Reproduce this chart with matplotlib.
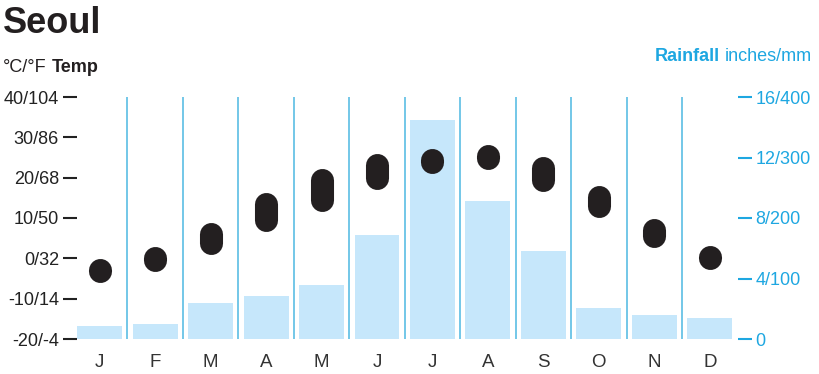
import matplotlib
matplotlib.use('Agg')
import matplotlib.pyplot as plt
import numpy as np

# 数据
months = ['J', 'F', 'M', 'A', 'M', 'J', 'J', 'A', 'S', 'O', 'N', 'D']
temp_low = [-3.2, -0.3, 3.7, 9.6, 14.5, 19.8, 23.8, 24.8, 19.5, 12.9, 5.6, 0.2]
temp_high = [-3.0, 0.2, 6.1, 13.4, 19.3, 23.2, 24.3, 25.3, 22.3, 15.1, 7.1, 0.4]
rain_mm = [21, 25, 59, 71, 89, 172, 362, 228, 145, 51, 40, 35]

temp_ticks = [-20, -10, 0, 10, 20, 30, 40]
temp_labels = ['-20/-4', '-10/14', '0/32', '10/50', '20/68', '30/86', '40/104']
rain_ticks = [0, 100, 200, 300, 400]
rain_labels = ['0', '4/100', '8/200', '12/300', '16/400']

plt.rcParams['font.family'] = ['Liberation Sans', 'DejaVu Sans']

blue = '#1ea7e1'
sep_blue = '#5bbde4'
bar_blue = '#c6e7fb'
dark = '#231f20'

fig = plt.figure(figsize=(8.19, 3.74), dpi=100)
ax = fig.add_axes([72 / 819, 35 / 374, 665.5 / 819, 242 / 374])
ax2 = ax.twinx()

x = np.arange(len(months))

# 降雨柱状图
ax2.bar(x, rain_mm, width=0.81, color=bar_blue, zorder=1)
ax2.set_ylim(0, 400)

# 温度范围（圆头粗线）
ax.vlines(x, temp_low, temp_high, colors=dark, linewidth=16.6, capstyle='round', zorder=3)
ax.set_ylim(-20, 40)
ax.set_xlim(-0.5, 11.5)

# 月份分隔线
for xs in np.arange(0.5, 11, 1):
    ax2.axvline(xs, color=sep_blue, linewidth=1.2, zorder=2)

ax.set_zorder(ax2.get_zorder() + 1)
ax.patch.set_visible(False)

for a in (ax, ax2):
    for s in a.spines.values():
        s.set_visible(False)
ax.spines['left'].set_position(('outward', -3.6))

ax.set_yticks(temp_ticks)
ax.set_yticklabels(temp_labels, fontsize=13, color='#222222')
ax.tick_params(axis='y', length=10, width=1.5, color='#222222', pad=3)
ax.set_xticks(x)
ax.set_xticklabels(months, fontsize=13.5, color='#333333')
ax.tick_params(axis='x', length=0, pad=11)

ax2.set_yticks(rain_ticks)
ax2.set_yticklabels(rain_labels, fontsize=13, color=blue)
ax2.tick_params(axis='y', length=10, width=1.5, color=blue, pad=3)

# 标题和轴标题
fig.text(3 / 819, 1 - 33 / 374, 'Seoul', fontsize=26, fontweight='bold', color=dark, va='baseline')
fig.text(3 / 819, 1 - 72 / 374, '°C/°F', fontsize=13, color=dark, va='baseline')
fig.text(99 / 819, 1 - 72 / 374, 'Temp', fontsize=13, fontweight='bold', color=dark,
         va='baseline', ha='right')
fig.text(812 / 819, 1 - 61 / 374, 'inches/mm', fontsize=13, color=blue, ha='right', va='baseline')
fig.text(720 / 819, 1 - 61 / 374, 'Rainfall', fontsize=13, fontweight='bold', color=blue,
         ha='right', va='baseline')

fig.savefig('out.png', dpi=100)
